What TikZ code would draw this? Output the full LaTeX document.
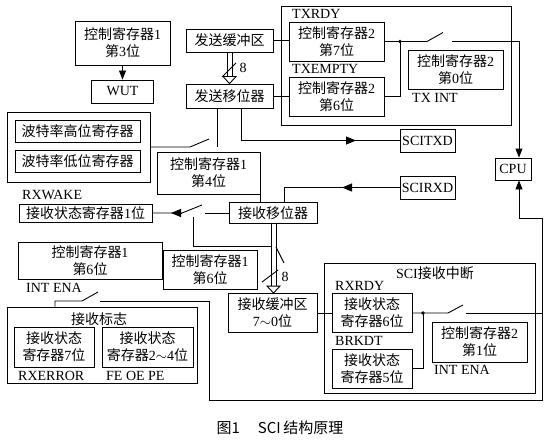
\documentclass[tikz,border=0pt]{standalone}
\usepackage{fontspec}
\setmainfont{Liberation Serif}
\newfontfamily\cjk{Noto Sans CJK SC}
\usetikzlibrary{arrows.meta,calc}
\newcommand\lat[1]{{\rmfamily #1}}
\begin{document}
\begin{tikzpicture}[x=1pt,y=-1pt,
  bx/.style={draw, line width=0.9pt, inner sep=0pt, align=center, font=\cjk\fontsize{14}{17}\selectfont},
  grp/.style={draw, line width=0.9pt, inner sep=0pt},
  lbl/.style={inner sep=0pt, font=\fontsize{14}{16}\selectfont},
  clbl/.style={inner sep=0pt, font=\cjk\fontsize{14}{16}\selectfont},
  ln/.style={line width=0.9pt},
  arr/.style={ln,-{Triangle[length=9pt,width=7pt]}},
  dot/.style={fill=black}]
\useasboundingbox (0,0) rectangle (549,444);

% ---------- transmit side ----------
\node[bx, minimum width=95pt, minimum height=44pt] (r1b3) at (122.5,43) {控制寄存器\lat{1}\\第\lat{3}位};
\node[bx, minimum width=62pt, minimum height=23pt, font=\fontsize{14}{16}\selectfont] (wut) at (122.5,91.5) {WUT};
\node[bx, minimum width=87pt, minimum height=23pt] (txbuf) at (229.5,40.5) {发送缓冲区};
\node[bx, minimum width=87pt, minimum height=24pt] (txsh) at (229.5,96) {发送移位器};

\node[grp, minimum width=230pt, minimum height=119pt] (txgrp) at (396,65.5) {};
\node[bx, minimum width=95pt, minimum height=39pt] (r2b7) at (336.5,41.5) {控制寄存器\lat{2}\\第\lat{7}位};
\node[bx, minimum width=95pt, minimum height=39pt] (r2b6) at (336.5,96.5) {控制寄存器\lat{2}\\第\lat{6}位};
\node[bx, minimum width=95pt, minimum height=39pt] (r2b0) at (455.5,69.5) {控制寄存器\lat{2}\\第\lat{0}位};
\node[lbl, anchor=west] (ltxrdy) at (292,14) {TXRDY};
\node[lbl, anchor=west] (ltxempty) at (292,69) {TXEMPTY};
\node[lbl, anchor=west] (ltxint) at (412,97.5) {TX INT};

% baud group
\node[grp, minimum width=143pt, minimum height=70pt] (baud) at (78.5,147) {};
\node[bx, minimum width=125pt, minimum height=22pt] (baudh) at (77.5,131) {波特率高位寄存器};
\node[bx, minimum width=125pt, minimum height=22pt] (baudl) at (77.5,161) {波特率低位寄存器};
\node[bx, minimum width=103pt, minimum height=42pt] (r1b4) at (208.5,173) {控制寄存器\lat{1}\\第\lat{4}位};

\node[bx, minimum width=55pt, minimum height=23pt, font=\fontsize{14}{16}\selectfont] (sctxd) at (427.5,140.5) {SCITXD};
\node[bx, minimum width=55pt, minimum height=23pt, font=\fontsize{14}{16}\selectfont] (scrxd) at (427.5,187.5) {SCIRXD};
\node[bx, minimum width=36pt, minimum height=22pt, font=\fontsize{14}{16}\selectfont] (cpu) at (513,169) {CPU};

% ---------- receive side ----------
\node[bx, minimum width=133pt, minimum height=18pt] (rxwake) at (85.5,213) {接收状态寄存器\lat{1}位};
\node[lbl, anchor=west] (lrxwake) at (22,195) {RXWAKE};
\node[bx, minimum width=88pt, minimum height=21pt] (rxsh) at (273,213) {接收移位器};

\node[bx, minimum width=144pt, minimum height=37pt] (r1b6a) at (90,260.5) {控制寄存器\lat{1}\\第\lat{6}位};
\node[bx, minimum width=94pt, minimum height=39pt] (r1b6b) at (210,269.5) {控制寄存器\lat{1}\\第\lat{6}位};
\node[lbl, anchor=west] (lintena1) at (26,288) {INT ENA};
\node[bx, minimum width=89pt, minimum height=39pt] (rxbuf) at (272.5,313) {接收缓冲区\\\lat{7$\sim$0}位};

\node[grp, minimum width=190pt, minimum height=76pt] (flag) at (102,345) {};
\node[clbl] (lflag) at (99,319) {接收标志};
\node[bx, minimum width=80pt, minimum height=40pt] (st7) at (54,347) {接收状态\\寄存器\lat{7}位};
\node[bx, minimum width=91pt, minimum height=40pt] (st24) at (147.5,347) {接收状态\\寄存器\lat{2$\sim$4}位};
\node[lbl, anchor=west] (lrxerr) at (18,375.5) {RXERROR};
\node[lbl, anchor=west] (lfe) at (106,375.5) {FE OE PE};

\node[grp, minimum width=211pt, minimum height=130pt] (rxint) at (429.5,328) {};
\node[clbl] (lrxint) at (435,273) {\lat{SCI}接收中断};
\node[bx, minimum width=80pt, minimum height=39pt] (st6) at (372,313) {接收状态\\寄存器\lat{6}位};
\node[bx, minimum width=80pt, minimum height=39pt] (st5) at (372,368.5) {接收状态\\寄存器\lat{5}位};
\node[bx, minimum width=95pt, minimum height=40pt] (r2b1) at (479.5,342) {控制寄存器\lat{2}\\第\lat{1}位};
\node[lbl, anchor=west] (lrxrdy) at (335,286) {RXRDY};
\node[lbl, anchor=west] (lbrkdt) at (335,341) {BRKDT};
\node[lbl, anchor=west] (lintena2) at (434,369.5) {INT ENA};

\node[inner sep=0pt, font=\cjk\fontsize{15}{17}\selectfont] (cap) at (280,428) {图1\hspace{1.2em}SCI\,结构原理};

% ---------- connectors ----------
\draw[arr] (r1b3.south) -- (wut.north);

% transmit bus (8 bits)
\draw[ln] ($(txbuf.south)+(-2.5,0)$) -- ($(txsh.north)+(-2.5,-7)$);
\draw[ln] ($(txbuf.south)+(2.5,0)$) -- ($(txsh.north)+(2.5,-7)$);
\draw[ln, fill=white] ($(txsh.north)+(-6.5,-7)$) -- ($(txsh.north)+(6.5,-7)$) -- (txsh.north) -- cycle;
\draw[ln] (222,77) -- (236,63);
\node[lbl] (l8a) at (243,68) {8};

\coordinate (j1) at (400,41.5);
\draw[ln] (txbuf.east) -- (txbuf.east -| r2b7.west);
\draw[ln] (txsh.east) -- (txsh.east -| r2b6.west);
\draw[ln] (r2b7.east) -- (j1) -- (427,41.5) -- (443,32.5);
\draw[ln] (r2b6.east) -| (j1);
\fill[dot] (j1) circle (1.8);
\coordinate (c1) at (452,41.5);
\draw[arr] (c1) -| ($(cpu.north)+(6,0)$);

% baud rate switch
\draw[ln] (baud.east) -- (190,147) -- (209,139);
\coordinate (c2) at (217,147);
\draw[ln] (c2) -- (c2 |- txsh.south);

% to SCITXD
\coordinate (tA) at (241,140.5);
\draw[ln] (txsh.south -| tA) |- (sctxd.west);
\draw[ln,-{Triangle[length=10pt,width=8pt]}] (tA) -- (356,140.5);

% from SCIRXD
\coordinate (rA) at (284,187.5);
\draw[ln] (scrxd.west) -| (rxsh.north -| rA);
\draw[ln,-{Triangle[length=10pt,width=8pt]}] (scrxd.west) -- (342,187.5);

\draw[ln] (r1b4.south east) -- (r1b4.south east |- rxsh.north);

% RXWAKE switch
\coordinate (p3) at (182,213);
\draw[ln] (rxwake.east) -- (p3) -- (202,205);
\draw[ln,-{Triangle[length=10pt,width=8pt]}] (p3) -- (171,213);
\draw[ln] (205,213) -- (rxsh.west);
\draw[ln] (193,216.5) -- (193,246) -- (271,246);

% receive bus (8 bits)
\draw[ln] ($(rxsh.south)+(-2,0)$) -- ($(rxsh.south |- rxbuf.north)+(-2,-7)$);
\draw[ln] ($(rxsh.south)+(3,0)$) -- ($(rxsh.south |- rxbuf.north)+(3,-7)$);
\draw[ln, fill=white] ($(rxsh.south |- rxbuf.north)+(-6,-7)$) -- ($(rxsh.south |- rxbuf.north)+(7,-7)$) -- ($(rxsh.south |- rxbuf.north)+(0.5,0)$) -- cycle;
\draw[ln] (276,247) -- (284,263);
\draw[ln] (262,282) -- (278,270);
\node[lbl] (l8b) at (285,277) {8};

% receive interrupt
\coordinate (j2) at (423,313);
\draw[ln] (rxbuf.east) -- (st6.west);
\draw[ln] (st6.east) -- (j2) -- (448,313) -- (463,305);
\draw[ln] (st5.east) -| (j2);
\fill[dot] (j2) circle (1.8);
\draw[ln] (466,313) -- (542,313);

% receive flags INT ENA switch
\coordinate (p4) at (55,301);
\draw[ln] (flag.north -| p4) -- (p4) -- (82,301) -- (98,292);
\draw[arr] (100,301) -| (209,400) -| (542,218) -| ($(cpu.south)+(6,0)$);
\end{tikzpicture}
\end{document}
